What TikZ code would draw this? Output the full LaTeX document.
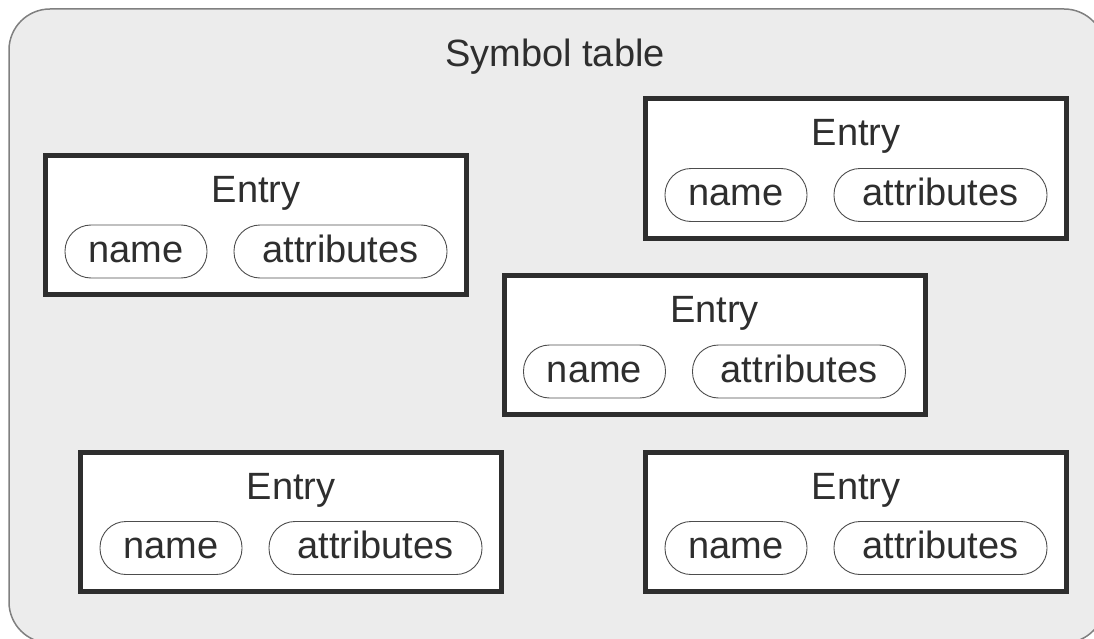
\documentclass[tikz,border=0pt]{standalone}
\usepackage{fontspec}
\setmainfont{Liberation Sans}
\definecolor{panelgray}{HTML}{ECECEC}
\definecolor{edgegray}{HTML}{808080}
\definecolor{ink}{HTML}{2E2E2E}
\tikzset{
	entrybox/.style={draw=ink,line width=5pt,fill=white,minimum width=421pt,minimum height=139pt,inner sep=0pt},
	pill/.style={draw=ink!85,line width=0.9pt,fill=white,rounded corners=26pt,minimum height=53pt,inner sep=0pt,text height=21pt,text depth=0pt,font=\fontsize{38}{40}\selectfont,text=ink},
	namepill/.style={pill,minimum width=142pt},
	attrpill/.style={pill,minimum width=213pt},
	caption/.style={anchor=base,inner sep=0pt,font=\fontsize{38}{40}\selectfont,text=ink}
}
\begin{document}
\begin{tikzpicture}[x=1pt,y=-1pt]
		\useasboundingbox (0,0) rectangle (1094,639);
		\clip (0,0) rectangle (1094,639);
		\draw[draw=edgegray,line width=1.5pt,fill=panelgray,rounded corners=41pt] (9,9) rectangle (1105,643);
		\node[caption](table) at (555,67) {Symbol table};
		\node[entrybox](e1) at (256,225) {};
		\node[caption](e1title) at (256,202.5) {Entry};
		\node[namepill](e1name) at (136,251.5) {name};
		\node[attrpill](e1attr) at (340.5,251.5) {attributes};
		\node[entrybox](e2) at (856,168.5) {};
		\node[caption](e2title) at (856,146) {Entry};
		\node[namepill](e2name) at (736,195) {name};
		\node[attrpill](e2attr) at (940.5,195) {attributes};
		\node[entrybox](e3) at (714.5,345) {};
		\node[caption](e3title) at (714.5,322.5) {Entry};
		\node[namepill](e3name) at (594.5,371.5) {name};
		\node[attrpill](e3attr) at (799,371.5) {attributes};
		\node[entrybox](e4) at (291,521.5) {};
		\node[caption](e4title) at (291,499) {Entry};
		\node[namepill](e4name) at (171,548) {name};
		\node[attrpill](e4attr) at (375.5,548) {attributes};
		\node[entrybox](e5) at (856,521.5) {};
		\node[caption](e5title) at (856,499) {Entry};
		\node[namepill](e5name) at (736,548) {name};
		\node[attrpill](e5attr) at (940.5,548) {attributes};
	\end{tikzpicture}
\end{document}
